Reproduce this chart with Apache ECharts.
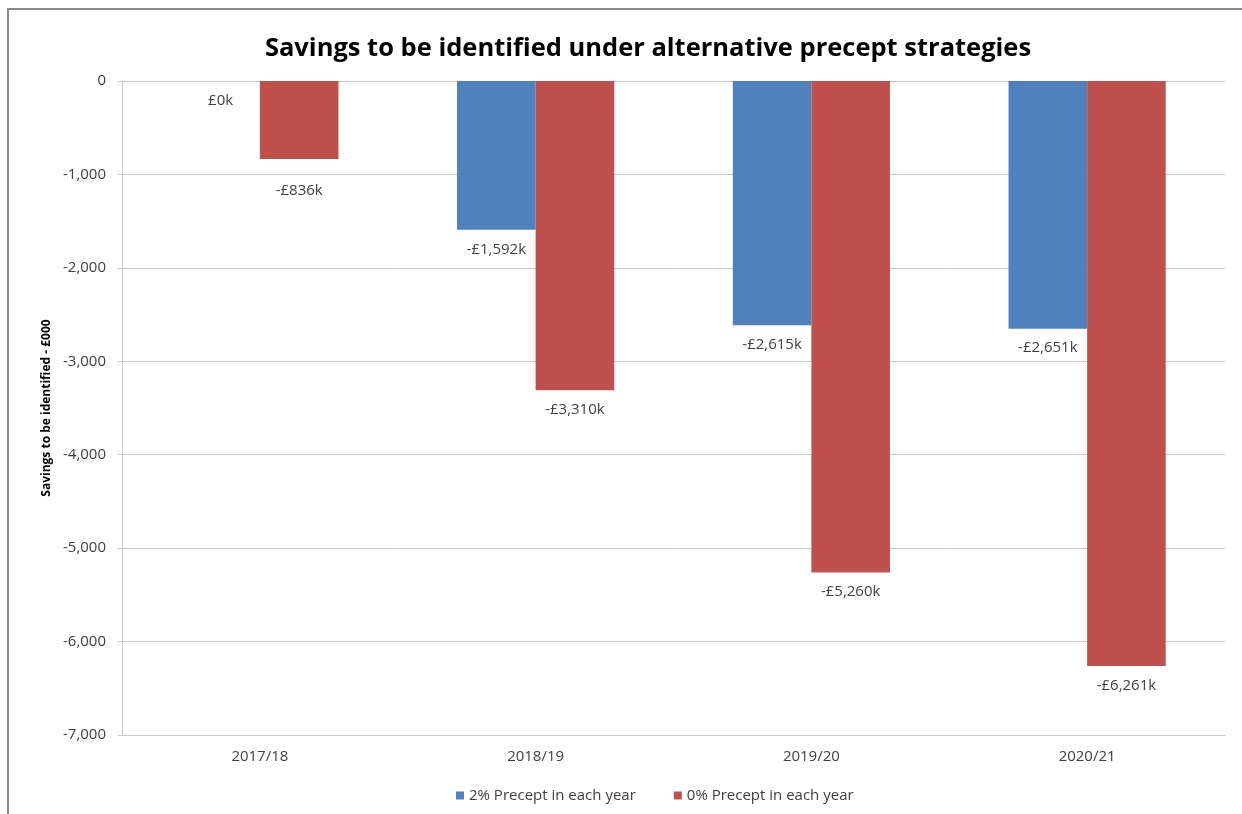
<!DOCTYPE html>
<html>
<head>
<meta charset="utf-8">
<script src="https://cdn.jsdelivr.net/npm/echarts@6/dist/echarts.min.js"></script>
<style>
  html, body { margin: 0; padding: 0; background: #fff; }
  #frame { position: absolute; left: 7px; top: 8px; width: 1240px; height: 810px; border-left: 2px solid #8a8a8a; border-top: 2px solid #8a8a8a; pointer-events: none; z-index: 2; }
  #chart { position: absolute; left: 0; top: 0; width: 1242px; height: 814px; }
</style>
</head>
<body>
<div id="chart"></div>
<div id="frame"></div>
<script>
const categories = ['2017/18', '2018/19', '2019/20', '2020/21'];
const seriesNames = ['2% Precept in each year', '0% Precept in each year'];
const precept2 = [0, -1592, -2615, -2651];
const precept0 = [-836, -3310, -5260, -6261];
const yTicks = { min: -7000, max: 0, interval: 1000 };

const FONT = 'Open Sans';
function fmtK(v) {
  const a = Math.abs(v).toLocaleString('en-US');
  return (v < 0 ? '-' : '') + '£' + a + 'k';
}
const labelStyle = {
  show: true,
  position: 'bottom',
  distance: 12,
  color: '#404040',
  fontFamily: FONT,
  fontSize: 15,
  formatter: p => fmtK(p.value)
};

const chart = echarts.init(document.getElementById('chart'), null, { renderer: 'canvas' });
chart.setOption({
  backgroundColor: '#ffffff',
  animation: false,
  title: {
    text: 'Savings to be identified under alternative precept strategies',
    left: 643,
    top: 31,
    textAlign: 'center',
    textStyle: { fontFamily: FONT, fontWeight: 'bold', fontSize: 25.5, color: '#000000' }
  },
  legend: {
    data: seriesNames,
    left: 451,
    top: 783,
    itemWidth: 8,
    itemHeight: 8,
    itemGap: 38,
    icon: 'rect',
    textStyle: { fontFamily: FONT, fontSize: 15, color: '#404040' }
  },
  grid: { left: 122, right: 17, top: 81, bottom: 79, containLabel: false },
  xAxis: {
    type: 'category',
    data: categories,
    axisLine: { onZero: false, lineStyle: { color: '#c8c8c8', width: 1 } },
    axisTick: { show: false },
    axisLabel: { margin: 14, fontFamily: FONT, fontSize: 15, color: '#404040' }
  },
  yAxis: {
    type: 'value',
    min: yTicks.min,
    max: yTicks.max,
    interval: yTicks.interval,
    name: 'Savings to be identified - £000',
    nameLocation: 'middle',
    nameGap: 68,
    nameRotate: 90,
    nameTextStyle: { fontFamily: FONT, fontWeight: 'bold', fontSize: 12, color: '#000000' },
    axisLine: { show: true, lineStyle: { color: '#c8c8c8' } },
    axisTick: { show: true, length: 4, lineStyle: { color: '#c8c8c8' } },
    axisLabel: {
      margin: 16,
      fontFamily: FONT, fontSize: 15, color: '#404040',
      formatter: v => v.toLocaleString('en-US')
    },
    splitLine: { show: true, lineStyle: { color: '#c8c8c8', width: 1 } }
  },
  series: [
    {
      name: seriesNames[0],
      type: 'bar',
      data: precept2,
      itemStyle: { color: '#4F81BD' },
      barGap: '0%',
      barCategoryGap: '43%',
      label: labelStyle
    },
    {
      name: seriesNames[1],
      type: 'bar',
      data: precept0.map((v, i) => i === 0 ? { value: v, label: { distance: 24 } } : v),
      itemStyle: { color: '#C0504D' },
      barGap: '0%',
      barCategoryGap: '43%',
      label: labelStyle
    }
  ]
});
</script>
</body>
</html>
